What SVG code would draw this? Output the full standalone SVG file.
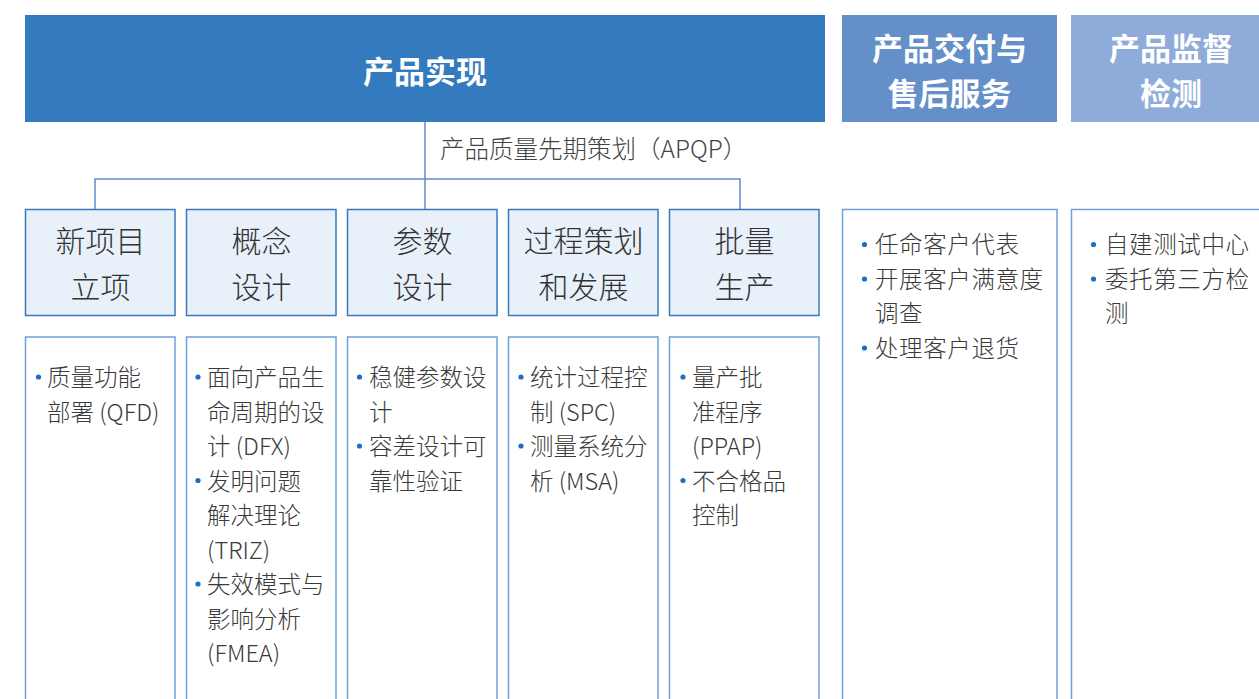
<svg xmlns="http://www.w3.org/2000/svg" width="1259" height="699" viewBox="0 0 1259 699">
<style>
.hd{font-family:"Noto Sans CJK SC","Noto Sans",sans-serif;font-weight:bold;font-size:31px;fill:#fff;text-anchor:middle}
.l2{fill:#e8f1fa;stroke:#3a78bb;stroke-width:1.5}
.l2t{font-family:"Noto Sans CJK SC","Noto Sans",sans-serif;font-weight:300;font-size:30px;fill:#333;text-anchor:middle}
.l3{fill:#fff;stroke:#6fa0d8;stroke-width:1.5}
.bt{font-family:"Noto Sans CJK SC","Noto Sans",sans-serif;font-weight:300;font-size:23.5px;fill:#3a3a3a}
.rt{letter-spacing:0.6px}
.dot{fill:#1f6fc0}
.cn{fill:none;stroke:#5b8fcc;stroke-width:1.5}
.lbl{font-family:"Noto Sans CJK SC","Noto Sans",sans-serif;font-weight:300;font-size:24.5px;fill:#444}
</style>
<rect width="1259" height="699" fill="#fff"/>
<g id="connectors">
<path class="cn" d="M425,122 V209 M95,209 V179 H740 V209"/>
<text class="lbl" x="440" y="158">产品质量先期策划（APQP）</text>
</g>
<g id="h1"><rect x="25" y="15" width="800" height="107" fill="#337bbe"/><text class="hd" x="425" y="83">产品实现</text></g>
<g id="h2"><rect x="842" y="15" width="215" height="107" fill="#648fc9"/><text class="hd" x="949.5" y="60">产品交付与</text><text class="hd" x="949.5" y="105">售后服务</text></g>
<g id="h3"><rect x="1071" y="15" width="200" height="107" fill="#8eabd9"/><text class="hd" x="1171" y="60">产品监督</text><text class="hd" x="1171" y="105">检测</text></g>

<g id="n1"><rect class="l2" x="25.5" y="209.5" width="149.5" height="106"/><text class="l2t" x="100.5" y="252">新项目</text><text class="l2t" x="100.5" y="298">立项</text></g>
<g id="n2"><rect class="l2" x="186.5" y="209.5" width="149.5" height="106"/><text class="l2t" x="261.5" y="252">概念</text><text class="l2t" x="261.5" y="298">设计</text></g>
<g id="n3"><rect class="l2" x="347.5" y="209.5" width="149.5" height="106"/><text class="l2t" x="422.5" y="252">参数</text><text class="l2t" x="422.5" y="298">设计</text></g>
<g id="n4"><rect class="l2" x="508.5" y="209.5" width="149.5" height="106"/><text class="l2t" x="583.5" y="252">过程策划</text><text class="l2t" x="583.5" y="298">和发展</text></g>
<g id="n5"><rect class="l2" x="669.5" y="209.5" width="149.5" height="106"/><text class="l2t" x="744.5" y="252">批量</text><text class="l2t" x="744.5" y="298">生产</text></g>

<g id="d1"><rect class="l3" x="25.5" y="337" width="149.5" height="380"/>
<circle class="dot" cx="38.5" cy="377" r="2.6"/>
<text class="bt" x="47" y="386">质量功能</text><text class="bt" x="47" y="420.5">部署 (QFD)</text></g>
<g id="d2"><rect class="l3" x="186.5" y="337" width="149.5" height="380"/>
<circle class="dot" cx="198" cy="377" r="2.6"/><circle class="dot" cx="198" cy="480.5" r="2.6"/><circle class="dot" cx="198" cy="584" r="2.6"/>
<text class="bt" x="207" y="386">面向产品生</text><text class="bt" x="207" y="420.5">命周期的设</text><text class="bt" x="207" y="455">计 (DFX)</text>
<text class="bt" x="207" y="489.5">发明问题</text><text class="bt" x="207" y="524">解决理论</text><text class="bt" x="207" y="558.5">(TRIZ)</text>
<text class="bt" x="207" y="593">失效模式与</text><text class="bt" x="207" y="627.5">影响分析</text><text class="bt" x="207" y="662">(FMEA)</text></g>
<g id="d3"><rect class="l3" x="347.5" y="337" width="149.5" height="380"/>
<circle class="dot" cx="359.5" cy="377" r="2.6"/><circle class="dot" cx="359.5" cy="446" r="2.6"/>
<text class="bt" x="369" y="386">稳健参数设</text><text class="bt" x="369" y="420.5">计</text>
<text class="bt" x="369" y="455">容差设计可</text><text class="bt" x="369" y="489.5">靠性验证</text></g>
<g id="d4"><rect class="l3" x="508.5" y="337" width="149.5" height="380"/>
<circle class="dot" cx="521" cy="377" r="2.6"/><circle class="dot" cx="521" cy="446" r="2.6"/>
<text class="bt" x="530" y="386">统计过程控</text><text class="bt" x="530" y="420.5">制 (SPC)</text>
<text class="bt" x="530" y="455">测量系统分</text><text class="bt" x="530" y="489.5">析 (MSA)</text></g>
<g id="d5"><rect class="l3" x="669.5" y="337" width="149.5" height="380"/>
<circle class="dot" cx="683" cy="377" r="2.6"/><circle class="dot" cx="683" cy="480.5" r="2.6"/>
<text class="bt" x="692" y="386">量产批</text><text class="bt" x="692" y="420.5">准程序</text><text class="bt" x="692" y="455">(PPAP)</text>
<text class="bt" x="692" y="489.5">不合格品</text><text class="bt" x="692" y="524">控制</text></g>

<g id="r1"><rect class="l3" x="842.5" y="209.5" width="214.5" height="510"/>
<circle class="dot" cx="864.5" cy="244.5" r="2.6"/><circle class="dot" cx="864.5" cy="279" r="2.6"/><circle class="dot" cx="864.5" cy="348" r="2.6"/>
<text class="bt rt" x="875" y="253">任命客户代表</text><text class="bt rt" x="875" y="287.5">开展客户满意度</text><text class="bt rt" x="875" y="322">调查</text><text class="bt rt" x="875" y="356.5">处理客户退货</text></g>
<g id="r2"><rect class="l3" x="1071.5" y="209.5" width="214.5" height="510"/>
<circle class="dot" cx="1093.5" cy="244.5" r="2.6"/><circle class="dot" cx="1093.5" cy="279" r="2.6"/>
<text class="bt rt" x="1105" y="253">自建测试中心</text><text class="bt rt" x="1105" y="287.5">委托第三方检</text><text class="bt rt" x="1105" y="322">测</text></g>
</svg>
